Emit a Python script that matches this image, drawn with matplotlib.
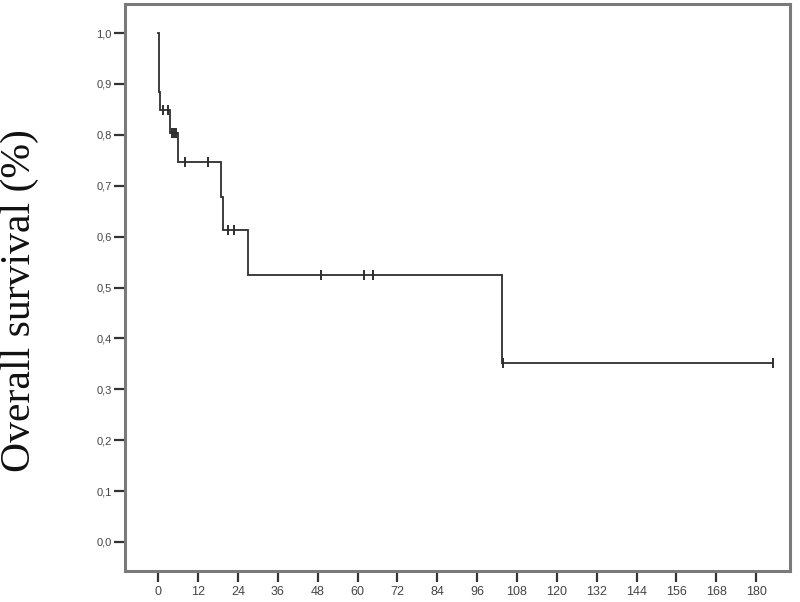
import matplotlib
matplotlib.use("Agg")
import matplotlib.pyplot as plt
import numpy as np

# Kaplan-Meier step data (months, survival proportion)
step_times = [0.0, 0.3, 0.6, 3.5, 6.0, 19.0, 19.6, 27.0, 103.4, 185.0]
step_surv = [1.0, 0.885, 0.849, 0.804, 0.747, 0.678, 0.613, 0.525, 0.352, 0.352]
censor_times = [1.5, 2.8, 4.2, 4.8, 5.3, 8.1, 15.0, 21.0, 22.9, 49.0, 62.0, 64.8, 103.7, 185.0]

x_ticks = list(range(0, 181, 12))
y_ticks = [0.0, 0.1, 0.2, 0.3, 0.4, 0.5, 0.6, 0.7, 0.8, 0.9, 1.0]
y_tick_labels = ["0,0", "0,1", "0,2", "0,3", "0,4", "0,5", "0,6", "0,7", "0,8", "0,9", "1,0"]
y_label = "Overall survival (%)"

fig = plt.figure(figsize=(8.0, 6.02), dpi=100)
ax = fig.add_axes([125/800, 1-571/602, (790-125)/800, (571-4)/602])

line_color = "#2e2e2e"
ax.step(step_times, step_surv, where="post", color=line_color, lw=1.3, solid_joinstyle="miter")

# censor marks on the curve
st = np.array(step_times)
sv = np.array(step_surv)
cens_y = [sv[np.searchsorted(st, t, side="right") - 1] for t in censor_times]
ax.plot(censor_times, cens_y, linestyle="none", marker="|", markersize=7,
        markeredgewidth=1.4, color=line_color)

ax.set_xlim(-10, 190.2)
ax.set_ylim(-0.057, 1.057)
ax.set_xticks(x_ticks)
ax.set_xticklabels([str(v) for v in x_ticks])
ax.set_yticks(y_ticks)
ax.set_yticklabels(y_tick_labels)

for sp in ax.spines.values():
    sp.set_color("#7a7a7a")
    sp.set_linewidth(2.2)

ax.tick_params(axis="y", direction="out", length=8, width=1.6, color="#333333",
               pad=1.5, labelsize=8, labelcolor="#444444")
ax.tick_params(axis="x", direction="out", length=8, width=1.6, color="#333333",
               pad=2.5, labelsize=9, labelcolor="#444444")
for lab in ax.get_xticklabels() + ax.get_yticklabels():
    lab.set_fontfamily("Liberation Sans")

fig.text(20/800, 1-301/602, y_label, rotation=90, ha="center", va="center",
         fontsize=30, family="Liberation Serif", color="#111111")

fig.savefig("out.png", dpi=100)
